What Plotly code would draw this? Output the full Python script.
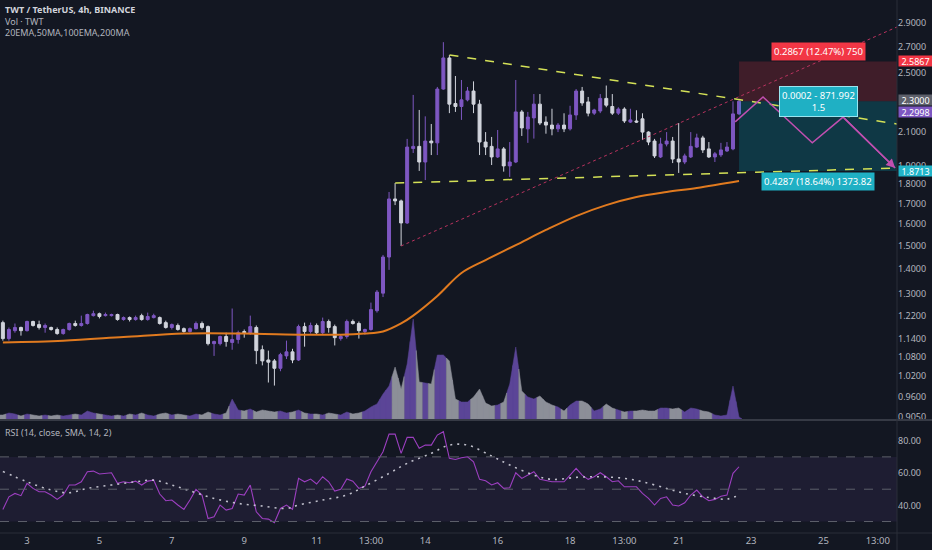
import math
import plotly.graph_objects as go

# ---------------- data ----------------
start_day = 2 + 8 / 24      # first 4h candle: day 2, 08:00
step = 4 / 24               # 4h candles, in days

opens = [
    1.195, 1.140, 1.167, 1.178, 1.167, 1.199, 1.188, 1.178, 1.178, 1.171,
    1.157, 1.171, 1.192, 1.185, 1.192, 1.220, 1.227, 1.220, 1.220, 1.224,
    1.206, 1.213, 1.206, 1.220, 1.206, 1.213, 1.213, 1.195, 1.178, 1.185,
    1.174, 1.164, 1.174, 1.192, 1.181, 1.123, 1.123, 1.147, 1.127, 1.137,
    1.164, 1.157, 1.178, 1.103, 1.070, 1.067, 1.044, 1.083, 1.096, 1.070,
    1.181, 1.164, 1.185, 1.160, 1.199, 1.181, 1.140, 1.147, 1.199, 1.192,
    1.164, 1.171, 1.238, 1.304, 1.451, 1.723, 1.713, 1.605, 2.000, 2.013,
    1.922, 2.045, 2.034, 2.385, 2.615, 2.285, 2.265, 2.310, 2.371, 2.281,
    2.039, 2.013, 1.951, 1.998, 1.900, 1.922, 2.229, 2.120, 2.190, 2.281,
    2.163, 2.144, 2.120, 2.144, 2.120, 2.209, 2.371, 2.296, 2.221, 2.235,
    2.320, 2.265, 2.221, 2.248, 2.163, 2.170, 2.184, 2.100, 2.045, 1.951,
    2.027, 2.045, 1.939, 1.922, 1.951, 2.009, 2.064, 1.998, 1.951, 1.963,
    1.986, 1.998, 2.216]
highs = [
    1.202, 1.178, 1.192, 1.181, 1.202, 1.202, 1.202, 1.192, 1.181, 1.178,
    1.174, 1.195, 1.202, 1.220, 1.227, 1.238, 1.231, 1.231, 1.227, 1.227,
    1.217, 1.217, 1.220, 1.227, 1.231, 1.227, 1.217, 1.202, 1.192, 1.192,
    1.178, 1.178, 1.199, 1.199, 1.185, 1.133, 1.150, 1.160, 1.246, 1.167,
    1.171, 1.220, 1.185, 1.117, 1.100, 1.073, 1.093, 1.133, 1.106, 1.188,
    1.195, 1.195, 1.192, 1.213, 1.206, 1.188, 1.153, 1.206, 1.206, 1.199,
    1.174, 1.268, 1.316, 1.460, 1.759, 1.806, 1.720, 2.058, 2.344, 2.242,
    2.200, 2.151, 2.400, 2.740, 2.638, 2.479, 2.450, 2.400, 2.440, 2.310,
    2.100, 2.070, 2.113, 2.009, 2.039, 2.450, 2.242, 2.229, 2.350, 2.350,
    2.200, 2.250, 2.157, 2.220, 2.270, 2.385, 2.400, 2.330, 2.250, 2.350,
    2.410, 2.350, 2.260, 2.260, 2.250, 2.240, 2.220, 2.105, 2.058, 2.065,
    2.100, 2.070, 2.157, 1.970, 2.100, 2.090, 2.077, 2.039, 1.980, 2.034,
    2.039, 2.300, 2.310]
lows = [
    1.133, 1.133, 1.160, 1.150, 1.164, 1.181, 1.171, 1.160, 1.167, 1.153,
    1.153, 1.167, 1.181, 1.181, 1.188, 1.217, 1.210, 1.217, 1.217, 1.202,
    1.202, 1.199, 1.202, 1.202, 1.202, 1.210, 1.188, 1.174, 1.171, 1.167,
    1.160, 1.160, 1.171, 1.171, 1.117, 1.083, 1.117, 1.113, 1.103, 1.123,
    1.143, 1.153, 1.057, 1.053, 1.001, 0.992, 1.035, 1.073, 1.060, 1.067,
    1.113, 1.157, 1.153, 1.153, 1.160, 1.117, 1.133, 1.140, 1.188, 1.140,
    1.153, 1.167, 1.231, 1.289, 1.397, 1.692, 1.499, 1.600, 1.974, 1.872,
    1.822, 1.962, 1.962, 2.380, 2.221, 2.229, 2.177, 2.300, 2.221, 1.962,
    1.962, 1.905, 1.945, 1.868, 1.839, 1.916, 2.076, 2.034, 2.060, 2.144,
    2.090, 2.080, 2.100, 2.100, 2.110, 2.177, 2.270, 2.200, 2.209, 2.221,
    2.260, 2.209, 2.209, 2.157, 2.157, 2.157, 2.051, 2.020, 1.945, 1.945,
    2.013, 1.916, 1.861, 1.910, 1.945, 2.003, 1.974, 1.945, 1.922, 1.951,
    1.980, 1.990, 2.210]
closes = [
    1.140, 1.171, 1.178, 1.167, 1.199, 1.185, 1.178, 1.185, 1.171, 1.157,
    1.171, 1.192, 1.185, 1.192, 1.224, 1.227, 1.217, 1.224, 1.224, 1.206,
    1.213, 1.206, 1.213, 1.206, 1.217, 1.220, 1.192, 1.178, 1.188, 1.171,
    1.164, 1.174, 1.192, 1.178, 1.123, 1.130, 1.147, 1.130, 1.137, 1.160,
    1.160, 1.181, 1.100, 1.067, 1.063, 1.044, 1.087, 1.096, 1.070, 1.181,
    1.164, 1.185, 1.160, 1.199, 1.178, 1.143, 1.147, 1.199, 1.192, 1.167,
    1.171, 1.242, 1.308, 1.451, 1.723, 1.713, 1.605, 2.009, 2.013, 1.922,
    2.045, 2.034, 2.385, 2.615, 2.281, 2.265, 2.310, 2.371, 2.281, 2.039,
    2.009, 1.951, 1.998, 1.900, 1.922, 2.229, 2.126, 2.195, 2.281, 2.157,
    2.144, 2.120, 2.144, 2.120, 2.209, 2.371, 2.289, 2.221, 2.242, 2.320,
    2.274, 2.221, 2.248, 2.170, 2.177, 2.163, 2.100, 2.039, 1.957, 2.027,
    2.045, 1.939, 1.922, 1.957, 2.013, 2.064, 1.992, 1.951, 1.969, 1.992,
    2.009, 2.216, 2.2998]

# volume, thousands of TWT
volumes = [
    40, 60, 50, 30, 50, 40, 30, 40, 30, 40,
    30, 40, 50, 40, 80, 60, 50, 40, 30, 40,
    30, 50, 40, 60, 40, 30, 50, 60, 40, 50,
    40, 30, 50, 40, 70, 50, 40, 60, 200, 90,
    80, 100, 70, 90, 80, 70, 80, 60, 70, 90,
    60, 50, 50, 40, 60, 50, 40, 70, 50, 60,
    80, 120, 150, 250, 330, 520, 300, 550, 1000, 370,
    360, 350, 640, 640, 580, 200, 170, 170, 220, 300,
    160, 130, 140, 170, 350, 720, 280, 220, 200, 230,
    170, 140, 120, 80, 140, 180, 180, 150, 80, 100,
    150, 110, 90, 70, 80, 80, 90, 80, 80, 110,
    110, 100, 110, 70, 110, 100, 80, 70, 40, 30,
    40, 330, 20]

# moving average (orange) read at some candles
ma_idx = [0, 10, 20, 30, 40, 50, 56, 60, 63, 66, 68, 72, 76, 80, 85, 90, 95, 100, 105, 110, 115, 122]
ma_val = [1.127, 1.133, 1.145, 1.157, 1.157, 1.153, 1.153, 1.157, 1.164, 1.192, 1.220, 1.293,
          1.384, 1.438, 1.503, 1.572, 1.638, 1.692, 1.733, 1.759, 1.780, 1.817]

rsi = [
    37.5, 45.3, 47.4, 46.0, 53.6, 50.5, 48.4, 48.4, 46.4, 43.7,
    46.4, 52.6, 52.6, 54.6, 60.8, 61.2, 59.4, 59.8, 60.2, 53.6,
    54.6, 54.0, 55.0, 52.6, 55.0, 55.6, 47.0, 42.9, 43.3, 40.2,
    37.5, 43.3, 49.9, 46.4, 31.9, 33.0, 40.2, 37.1, 38.1, 47.0,
    46.4, 52.6, 36.0, 31.9, 31.5, 29.2, 38.1, 40.2, 37.5, 56.7,
    54.6, 56.3, 53.2, 57.7, 54.6, 48.8, 49.9, 56.3, 55.0, 50.5,
    51.9, 60.8, 67.0, 73.2, 84.1, 84.1, 72.2, 82.1, 82.1, 75.3,
    77.3, 77.3, 83.5, 85.6, 69.1, 68.4, 69.5, 70.1, 67.0, 56.1,
    55.2, 52.6, 54.0, 50.5, 50.9, 60.2, 56.7, 58.7, 60.8, 56.1,
    55.2, 54.6, 54.6, 54.6, 58.7, 62.9, 58.7, 56.1, 57.7, 60.2,
    57.7, 54.6, 55.2, 51.5, 51.5, 51.5, 47.4, 44.3, 40.2, 44.3,
    45.3, 40.2, 39.6, 41.6, 46.4, 49.5, 45.3, 42.9, 43.7, 45.7,
    46.4, 59.8, 63.9]
rsi_sma_idx = [0, 4, 8, 11, 14, 18, 22, 25, 28, 31, 35, 39, 43, 47, 49, 53, 57, 60, 64, 67, 71,
               74, 77, 81, 84, 88, 91, 95, 99, 103, 106, 110, 113, 117, 120, 122]
rsi_sma_val = [61.0, 54.6, 49.5, 47.8, 50.5, 52.6, 54.6, 55.6, 52.6, 49.0, 44.3, 41.2, 39.6,
               38.1, 40.2, 43.3, 46.4, 51.9, 59.8, 66.0, 72.2, 77.3, 77.3, 70.5, 65.0, 58.7,
               56.1, 57.3, 57.7, 56.7, 54.6, 50.5, 47.4, 44.9, 43.9, 46.4]

# drawings (day, price)
tri_upper_day = [14.67, 27.03]
tri_upper_price = [2.638, 2.151]
tri_lower_day = [13.17, 27.03]
tri_lower_price = [1.806, 1.888]
trend_day = [13.33, 27.03]
trend_price = [1.499, 2.866]
path_day = [22.56, 23.33, 24.69, 25.54, 26.98]
path_price = [2.164, 2.330, 2.034, 2.195, 1.888]

pos_start_day = 22.667
pos_end_day = 27.03
pos_entry = 2.30
pos_stop = 2.5867
pos_target = 1.8713
last_close = 2.2998
stop_label = "0.2867 (12.47%) 750"
mid_label = "0.0002 - 871.992<br>1.5"
target_label = "0.4287 (18.64%) 1373.82"

price_ticks = [3.1, 2.9, 2.7, 2.5, 2.1, 1.9, 1.8, 1.7, 1.6, 1.5, 1.4, 1.3, 1.22, 1.14, 1.08, 1.02, 0.96, 0.905]
rsi_ticks = [40, 60, 80]
day_ticks = [3, 5, 7, 9, 11, 12.5, 14, 16, 18, 19.5, 21, 23, 25, 26.5]
day_labels = ["3", "5", "7", "9", "11", "13:00", "14", "16", "18", "13:00", "21", "23", "25", "13:00"]

# ---------------- styling ----------------
BG = "#131722"
UP = "#7e57c2"
DOWN = "#d1d4dc"
TXT = "#b2b5be"
FONT = "Noto Sans"
X_RANGE = [2.254, 27.03]
PRICE_RANGE = [0.8986, 3.104]
RSI_RANGE = [22.9, 92.2]
MAIN_DOM = [0.2139, 1.0]
RSI_DOM = [0.0, 0.2101]

n = len(opens)
t = [start_day + i * step for i in range(n)]

fig = go.Figure()

# volume area, coloured per candle
vx = {True: [], False: []}
vy = {True: [], False: []}
for i in range(n):
    up = closes[i] >= opens[i]
    left, right = t[i] - step / 2, t[i] + step / 2
    vl = (volumes[i - 1] + volumes[i]) / 2 if i > 0 else volumes[i]
    vr = (volumes[i] + volumes[i + 1]) / 2 if i < n - 1 else 0
    vx[up] += [left, left, t[i], right, right, left, None]
    vy[up] += [0, vl, volumes[i], vr, 0, 0, None]
for up, col in ((True, "#5b4597"), (False, "#8c8f98")):
    fig.add_trace(go.Scatter(x=vx[up], y=vy[up], mode="lines", fill="toself",
                             fillcolor=col, line=dict(width=0.5, color=col), xaxis="x", yaxis="y",
                             hoverinfo="skip"))

# position zones
fig.add_trace(go.Scatter(x=[pos_start_day, pos_end_day, pos_end_day, pos_start_day, pos_start_day],
                         y=[pos_entry, pos_entry, pos_stop, pos_stop, pos_entry],
                         fill="toself", fillcolor="rgba(242,54,69,0.2)", mode="lines",
                         line=dict(width=0), xaxis="x", yaxis="y3"))
fig.add_trace(go.Scatter(x=[pos_start_day, pos_end_day, pos_end_day, pos_start_day, pos_start_day],
                         y=[pos_target, pos_target, pos_entry, pos_entry, pos_target],
                         fill="toself", fillcolor="rgba(0,188,212,0.2)", mode="lines",
                         line=dict(width=0), xaxis="x", yaxis="y3"))

# trend lines
fig.add_trace(go.Scatter(x=trend_day, y=trend_price, mode="lines",
                         line=dict(color="#b8325e", width=1, dash="dot"), xaxis="x", yaxis="y3"))
for d, p in ((tri_upper_day, tri_upper_price), (tri_lower_day, tri_lower_price)):
    fig.add_trace(go.Scatter(x=d, y=p, mode="lines",
                             line=dict(color="#d4e157", width=1.5, dash="dash"),
                             xaxis="x", yaxis="y3"))

# candles
fig.add_trace(go.Candlestick(
    x=t, open=opens, high=highs, low=lows, close=closes, xaxis="x", yaxis="y3",
    increasing=dict(line=dict(color=UP, width=1), fillcolor=UP),
    decreasing=dict(line=dict(color=DOWN, width=1), fillcolor=DOWN),
    whiskerwidth=0))

# moving average
fig.add_trace(go.Scatter(x=[t[i] for i in ma_idx], y=ma_val, mode="lines",
                         line=dict(color="#e07a1f", width=2, shape="spline"),
                         xaxis="x", yaxis="y3"))

# projected path
fig.add_trace(go.Scatter(x=path_day, y=path_price, mode="lines",
                         line=dict(color="#c04fb0", width=1.5), xaxis="x", yaxis="y3"))

# RSI
fig.add_trace(go.Scatter(x=t, y=rsi, mode="lines", line=dict(color="#9c3fc0", width=1.1),
                         xaxis="x2", yaxis="y2"))
fig.add_trace(go.Scatter(x=[t[i] for i in rsi_sma_idx], y=rsi_sma_val, mode="lines",
                         line=dict(color="rgba(220,220,230,0.85)", width=1.6, dash="2px,5px",
                                   shape="spline"),
                         xaxis="x2", yaxis="y2"))

shapes = [
    dict(type="rect", xref="paper", yref="y2", x0=0, x1=1, y0=30, y1=70,
         fillcolor="rgba(126,87,194,0.10)", line=dict(width=0), layer="below"),
]
for lvl in (70, 50, 30):
    shapes.append(dict(type="line", xref="paper", yref="y2", x0=0, x1=1, y0=lvl, y1=lvl,
                       line=dict(color="#5d606b", width=1, dash="dash")))
sep_y = (MAIN_DOM[0] + RSI_DOM[1]) / 2
shapes += [
    dict(type="line", xref="paper", yref="paper", x0=0, x1=1.04, y0=sep_y, y1=sep_y,
         line=dict(color="#363a45", width=2)),
    dict(type="line", xref="paper", yref="paper", x0=1, x1=1, y0=-0.04, y1=1,
         line=dict(color="#2a2e39", width=1)),
    dict(type="line", xref="paper", yref="paper", x0=0, x1=1.04, y0=0, y1=0,
         line=dict(color="#2a2e39", width=1)),
]

L = math.log10
anns = []
# header texts (one block, three lines)
header = ("<span style='color:#d1d4dc'><b>TWT / TetherUS, 4h, BINANCE</b></span><br>"
          "Vol · TWT<br>20EMA,50MA,100EMA,200MA")
anns.append(dict(xref="paper", yref="paper", x=0, y=1, xanchor="left", yanchor="top",
                 xshift=3, yshift=-1, showarrow=False, align="left", text=header,
                 font=dict(size=9, color=TXT, family=FONT)))
anns.append(dict(xref="paper", yref="paper", x=0, y=RSI_DOM[1], xanchor="left", yanchor="top",
                 xshift=3, yshift=-3, showarrow=False, text="RSI (14, close, SMA, 14, 2)",
                 font=dict(size=9, color=TXT, family=FONT)))

# position labels
mid_day = (pos_start_day + pos_end_day) / 2
anns.append(dict(xref="x", yref="y3", x=mid_day, y=L(pos_stop), yanchor="bottom", yshift=1,
                 showarrow=False, text=stop_label,
                 bgcolor="#f23645", borderpad=2, font=dict(size=9.5, color="white", family=FONT)))
anns.append(dict(xref="x", yref="y3", x=mid_day, y=L(pos_entry), yanchor="middle",
                 showarrow=False, text=mid_label,
                 bgcolor="#1fb0c4", bordercolor="#9ae6f0", borderwidth=1, borderpad=2,
                 font=dict(size=9.5, color="white", family=FONT)))
anns.append(dict(xref="x", yref="y3", x=mid_day, y=L(pos_target), yanchor="top", yshift=-1,
                 showarrow=False, text=target_label,
                 bgcolor="#1fb0c4", borderpad=2, font=dict(size=9.5, color="white", family=FONT)))

# arrow head of projected path
anns.append(dict(xref="x", yref="y3", axref="x", ayref="y3", x=path_day[-1], y=L(path_price[-1]),
                 ax=path_day[-2], ay=L(path_price[-2]), text="", showarrow=True,
                 arrowhead=2, arrowsize=1.2, arrowwidth=1.5, arrowcolor="#c04fb0", standoff=0))

# right axis price boxes
for price, col, shift in ((pos_stop, "#f23645", 1), (pos_entry, "#5d606b", 1),
                          (last_close, UP, -11), (pos_target, "#22b5c9", 0)):
    anns.append(dict(xref="paper", yref="y3", x=1, y=L(price), xanchor="left", yanchor="middle",
                     xshift=1, yshift=shift, showarrow=False, text="%.4f" % price,
                     width=33, height=10, align="center",
                     bgcolor=col, borderpad=0, font=dict(size=9, color="white", family=FONT)))

axis_common = dict(showgrid=False, zeroline=False, showline=False)
fig.update_layout(
    width=932, height=550,
    margin=dict(l=0, r=35, t=0, b=17),
    paper_bgcolor=BG, plot_bgcolor=BG,
    showlegend=False,
    font=dict(family=FONT, color=TXT, size=9),
    xaxis=dict(domain=[0, 1], anchor="y", range=X_RANGE, showticklabels=False,
               rangeslider=dict(visible=False), **axis_common),
    xaxis2=dict(domain=[0, 1], anchor="y2", range=X_RANGE, matches="x",
                tickvals=day_ticks, ticktext=day_labels, ticks="",
                tickfont=dict(size=9.5, color=TXT), **axis_common),
    yaxis=dict(domain=MAIN_DOM, anchor="x", range=[0, 4190], visible=False, **axis_common),
    yaxis3=dict(overlaying="y", anchor="x", side="right", type="log",
                range=[L(PRICE_RANGE[0]), L(PRICE_RANGE[1])],
                tickvals=price_ticks, ticktext=["%.4f" % v for v in price_ticks],
                ticks="", tickfont=dict(size=9, color=TXT), **axis_common),
    yaxis2=dict(domain=RSI_DOM, anchor="x2", side="right", range=RSI_RANGE,
                tickvals=rsi_ticks, ticktext=["%.2f" % v for v in rsi_ticks],
                ticks="", tickfont=dict(size=9, color=TXT), **axis_common),
    shapes=shapes,
    annotations=anns,
)

fig.write_html("out.html", config={"displayModeBar": False},
               post_script="document.body.style.margin='0';document.body.style.background='%s';" % BG)
